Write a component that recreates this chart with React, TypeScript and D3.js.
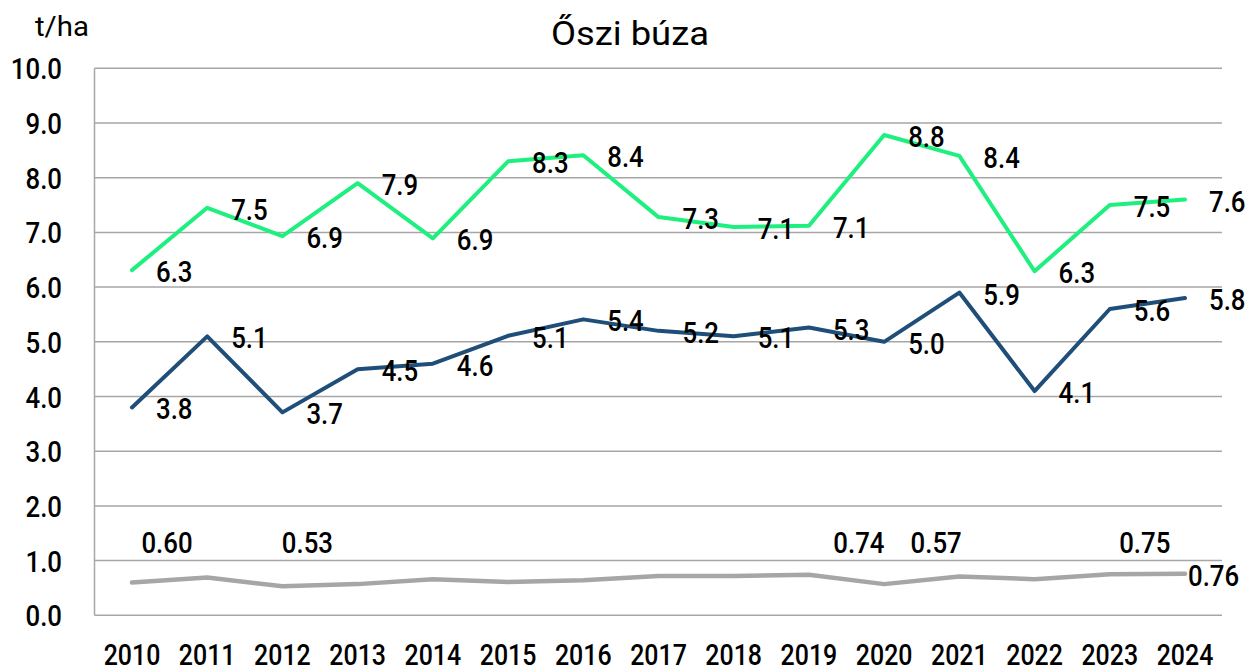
import React from 'react';
import * as d3 from 'd3';

const years = ['2010','2011','2012','2013','2014','2015','2016','2017','2018','2019','2020','2021','2022','2023','2024'];
const topYield = [6.31,7.45,6.93,7.9,6.89,8.3,8.41,7.28,7.1,7.12,8.78,8.4,6.29,7.5,7.6];
const avgYield = [3.8,5.1,3.71,4.5,4.6,5.11,5.41,5.2,5.1,5.26,5.0,5.9,4.1,5.6,5.8];
const lowSeries = [0.60,0.69,0.53,0.57,0.66,0.61,0.64,0.72,0.72,0.74,0.57,0.71,0.66,0.75,0.76];
const lowLabelled = [0, 2, 9, 10, 13];
const yTicks = [0,1,2,3,4,5,6,7,8,9,10];
const title = 'Őszi búza';
const unit = 't/ha';

const W = 1248, H = 672;
const FONT = 'Roboto, "DejaVu Sans", sans-serif';
const SX = 0.86;

export default function App() {
  const x = d3.scalePoint<string>().domain(years).range([132, 1185]).padding(0);
  const y = d3.scaleLinear().domain([0, 10]).range([615.3, 68.3]);
  const plotL = 94.5, plotR = 1222;
  const line = d3.line<number>().x((_, i) => x(years[i])!).y(d => y(d));

  const txt = (key: string, tx: number, ty: number, s: string, anchor: string, size = 30, sx = SX, weight = 500) => (
    <text key={key} transform={`translate(${tx},${ty}) scale(${sx},1)`} textAnchor={anchor as any}
      fontSize={size} fontFamily={FONT} fontWeight={weight} fill="#000">{s}</text>
  );

  const lowNudge: Record<number, number> = { 0: 35, 2: 25, 9: 50, 10: 52, 13: 35 };

  return (
    <svg width={W} height={H} style={{ position: 'absolute', left: 0, top: 0, background: '#fff' }}>
      <rect x={0} y={0} width={W} height={H} fill="#fff" />
      {yTicks.map(t => (
        <line key={'g' + t} x1={plotL} x2={plotR} y1={y(t)} y2={y(t)} stroke="#a6a6a6" strokeWidth={1.5} />
      ))}
      <line x1={plotL} x2={plotL} y1={y(10)} y2={y(0)} stroke="#a6a6a6" strokeWidth={1.5} />
      {yTicks.map(t => txt('yt' + t, 62, y(t) + 11, t.toFixed(1), 'end'))}
      {years.map(yr => txt('x' + yr, x(yr)!, 665, yr, 'middle', 29))}
      {txt('title', 630, 45, title, 'middle', 34, 1.07, 400)}
      {txt('unit', 35, 36, unit, 'start', 28, 1.05, 400)}

      <path d={line(lowSeries)!} fill="none" stroke="#a6a6a6" strokeWidth={4.5} strokeLinejoin="round" strokeLinecap="round" />
      <path d={line(avgYield)!} fill="none" stroke="#1f4e79" strokeWidth={4} strokeLinejoin="round" strokeLinecap="round" />
      <path d={line(topYield)!} fill="none" stroke="#1ef07f" strokeWidth={4} strokeLinejoin="round" strokeLinecap="round" />

      {topYield.map((v, i) => txt('t' + i, x(years[i])! + 24, y(v) + 12, v.toFixed(1), 'start'))}
      {avgYield.map((v, i) => txt('a' + i, x(years[i])! + 24, y(v) + 12, v.toFixed(1), 'start'))}
      {lowLabelled.map(i => txt('l' + i, x(years[i])! + lowNudge[i], 553, lowSeries[i].toFixed(2), 'middle'))}
      {txt('lend', x(years[14])! + 3, y(lowSeries[14]) + 12, lowSeries[14].toFixed(2), 'start')}
    </svg>
  );
}
